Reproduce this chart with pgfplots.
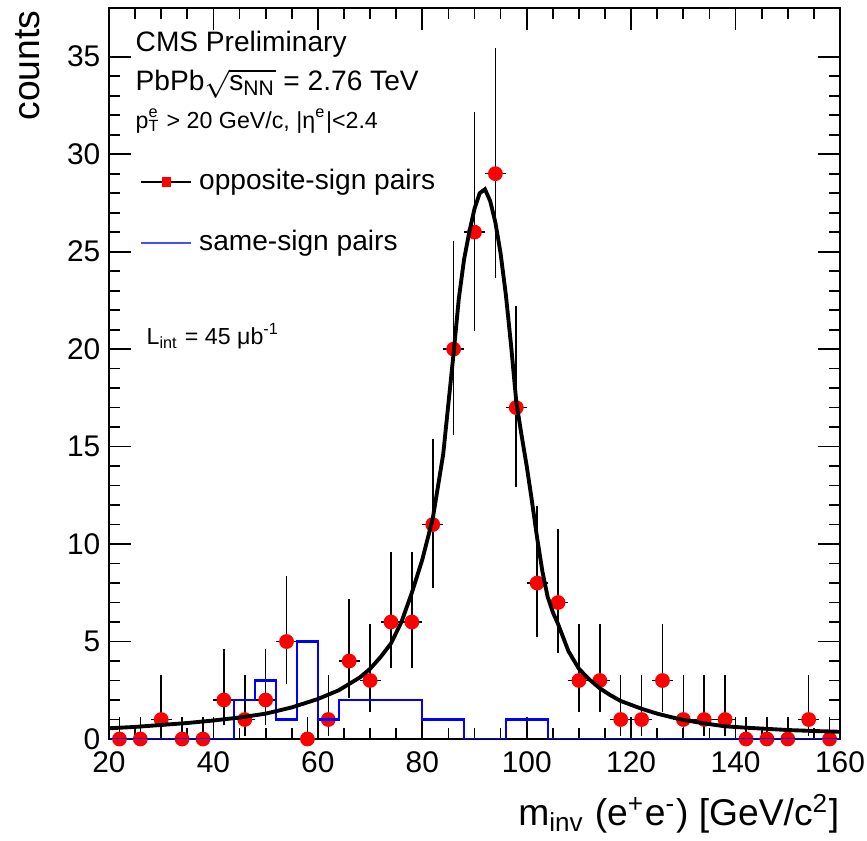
\documentclass[border=0pt]{standalone}
\usepackage{fontspec}
\setmainfont{Liberation Sans}
\usepackage{pgfplots}
\pgfplotsset{compat=1.18}

\pgfplotstableread{
x y ex ep em
22 0 2 1.15 0
26 0 2 1.15 0
30 1 2 2.30 0.83
34 0 2 1.15 0
38 0 2 1.15 0
42 2 2 2.64 1.29
46 1 2 2.30 0.83
50 2 2 2.64 1.29
54 5 2 3.38 2.16
58 0 2 1.15 0
62 1 2 2.30 0.83
66 4 2 3.16 1.91
70 3 2 2.92 1.63
74 6 2 3.58 2.37
78 6 2 3.58 2.37
82 11 2 4.41 3.26
86 20 2 5.54 4.43
90 26 2 6.16 5.06
94 29 2 6.44 5.35
98 17 2 5.20 4.08
102 8 2 3.94 2.76
106 7 2 3.77 2.58
110 3 2 2.92 1.63
114 3 2 2.92 1.63
118 1 2 2.30 0.83
122 1 2 2.30 0.83
126 3 2 2.92 1.63
130 1 2 2.30 0.83
134 1 2 2.30 0.83
138 1 2 2.30 0.83
142 0 2 1.15 0
146 0 2 1.15 0
150 0 2 1.15 0
154 1 2 2.30 0.83
158 0 2 1.15 0
}\opposite

\pgfplotstableread{
x y
20 0
44 2
48 3
52 1
56 5
60 1
64 2
80 1
88 0
96 1
104 0
160 0
}\samesign

\pgfplotstableread{
x y
20 0.55
25 0.62
30 0.72
35 0.82
40 0.95
45 1.10
50 1.30
55 1.62
60 2.05
64 2.50
68 3.15
70 3.60
72 4.20
74 4.90
76 6.00
78 7.50
80 9.20
82 11.3
84 14.6
86 19.8
87 22.6
88 24.6
89 26.0
90 27.2
91 28.0
92 28.2
93 27.6
94 26.5
95 24.9
96 22.8
97 20.2
98 17.3
99 15.6
100 14.0
101 12.2
102 10.3
103 8.6
104 7.3
105 6.5
106 5.9
108 4.5
110 3.6
112 3.05
114 2.6
116 2.25
118 1.95
120 1.75
122 1.55
125 1.30
128 1.10
130 0.98
134 0.80
138 0.65
142 0.58
146 0.52
150 0.46
155 0.41
160 0.37
}\fitcurve

\begin{document}
\begin{tikzpicture}
\useasboundingbox (-1.09cm,-1.02cm) rectangle (7.58cm,7.39cm);
\begin{axis}[
    at={(0,0)}, anchor=south west,
    scale only axis,
    width=7.31cm, height=7.31cm,
    xmin=20, xmax=160,
    ymin=0, ymax=37.5,
    xtick={20,40,...,160},
    ytick={0,5,...,35},
    minor x tick num=3,
    minor y tick num=4,
    tick align=inside,
    tick pos=both,
    major tick length=0.22cm,
    minor tick length=0.11cm,
    axis line style={line width=0.6pt},
    every tick/.style={black, line width=0.5pt},
    /pgf/number format/assume math mode=true,
    ticklabel style={font=\fontsize{8.5}{10}\selectfont},
    yticklabel style={inner sep=0pt, xshift=-0.08cm},
    xticklabel style={inner sep=0pt, yshift=-0.12cm},
    clip mode=individual,
    xlabel={m\textsubscript{inv} (e\textsuperscript{+}e\textsuperscript{-}) [GeV/c\textsuperscript{2}]},
    ylabel={counts},
    xlabel style={at={(rel axis cs:1,-0.074)}, anchor=north east, inner sep=0pt, font=\fontsize{10.6}{12}\selectfont},
    ylabel style={at={(rel axis cs:-0.1286,0.9973)}, anchor=north east, inner sep=0pt, font=\fontsize{10.6}{12}\selectfont},
    legend cell align=left,
    legend style={at={(rel axis cs:0.042,0.790)}, anchor=north west, draw=none, fill=none,
        font=\fontsize{8}{9.6}\selectfont, row sep=0.21cm, inner sep=0pt},
]
\addplot[only marks, mark=*, mark size=1.9pt, color=red,
    legend image code/.code={
        \draw[black, line width=0.5pt] (0cm,0cm) -- (0.5cm,0cm);
        \fill[red] (0.21cm,-0.04cm) rectangle (0.29cm,0.04cm);},
    error bars/.cd, x dir=both, x explicit, y dir=both, y explicit,
    error mark=none, error bar style={black, line width=0.45pt}]
    table[x=x, y=y, x error=ex, y error plus=ep, y error minus=em] {\opposite};
\addlegendentry{opposite-sign pairs}
\addplot[const plot, blue, line width=0.6pt,
    legend image code/.code={
        \draw[blue!70, line width=0.5pt] (0cm,0cm) -- (0.5cm,0cm);}]
    table[x=x, y=y] {\samesign};
\addlegendentry{same-sign pairs}
\addplot[black, line width=1.1pt, forget plot] table[x=x, y=y] {\fitcurve};

\node[anchor=base west, inner sep=0pt, font=\fontsize{8}{9.6}\selectfont] at (rel axis cs:0.0356,0.9398) {CMS Preliminary};
\node[anchor=base west, inner sep=0pt, font=\fontsize{8}{9.6}\selectfont] at (rel axis cs:0.0356,0.8865) {PbPb$\sqrt{\hbox{s\textsubscript{NN}}}$ = 2.76 TeV};
\node[anchor=base west, inner sep=0pt, font=\fontsize{6.6}{8}\selectfont] at (rel axis cs:0.0356,0.8358) {p\rlap{\textsuperscript{e}}\textsubscript{T} > 20 GeV/c, |η\textsuperscript{e}|<2.4};
\node[anchor=base west, inner sep=0pt, font=\fontsize{6.6}{8}\selectfont] at (rel axis cs:0.0506,0.539) {L\textsubscript{int} = 45 μb\textsuperscript{-1}};
\end{axis}
\end{tikzpicture}
\end{document}
